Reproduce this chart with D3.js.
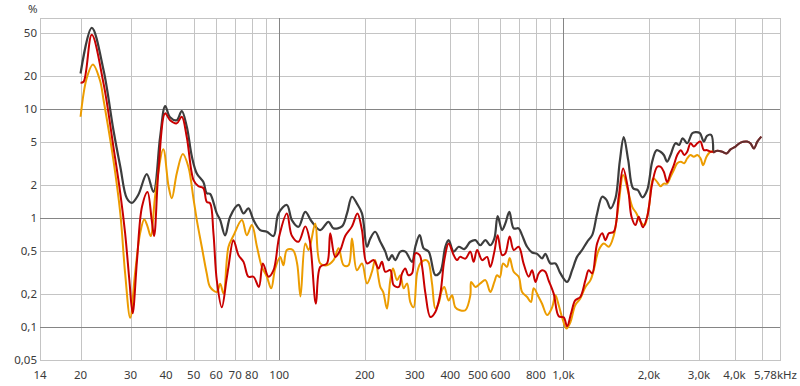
<!DOCTYPE html>
<html>
<head>
<meta charset="utf-8">
<script src="https://d3js.org/d3.v7.min.js"></script>
<style>
  body { margin: 0; background: #fff; }
  text { font-family: "Noto Sans", "Open Sans", sans-serif; font-size: 11.5px; fill: #3a3a3a; }
</style>
</head>
<body>
<script>
// axis ticks and grid
var xTickVals = [14.4, 20, 30, 40, 50, 60, 70, 80, 100, 200, 300, 400, 500, 600, 800, 1000, 2000, 3000, 4000, 5780];
var xTickLabels = ["14", "20", "30", "40", "50", "60", "70", "80", "100", "200", "300", "400", "500", "600", "800", "1,0k", "2,0k", "3,0k", "4,0k", "5,78kHz"];
var yTickVals = [50, 20, 10, 5, 2, 1, 0.5, 0.2, 0.1, 0.05];
var yTickLabels = ["50", "20", "10", "5", "2", "1", "0,5", "0,2", "0,1", "0,05"];
var xMinor = [20, 30, 40, 50, 60, 70, 80, 90, 200, 300, 400, 500, 600, 700, 800, 900, 2000, 3000, 4000, 5000];
var xMajor = [100, 1000];
var yMinor = [50, 20, 5, 2, 0.5, 0.2];
var yMajor = [10, 1, 0.1];

// THD (dark grey)
var thdFreq = [20, 21.9, 24.1, 26.1, 27.6, 29.1, 30.3, 31.9, 34.2, 36.1, 38.1, 39.7, 41.3, 43.6, 45.4, 47.3, 49.3, 51.3, 54.1, 55.6, 57.1, 60.3, 62.0, 64.5, 67.2, 71.9, 74.9, 77.9, 81.2, 85.7, 90.5, 95.5, 99.4, 106.4, 110.8, 116.9, 123.5, 130.3, 139.4, 149.1, 155.3, 166.3, 173.2, 180.3, 187.6, 195.5, 203.6, 209.2, 217.5, 226.8, 236.2, 242.5, 249.4, 256, 266.8, 277.8, 293.2, 301.2, 312, 322.2, 335.6, 354.3, 368.8, 384.1, 394.5, 410.9, 428, 447.5, 470.4, 490, 510, 531.4, 553, 571.5, 586.9, 608.3, 624.6, 645.2, 668.3, 696, 715.3, 745, 775.8, 808, 841, 863.6, 900, 937, 976, 1030, 1073, 1116.5, 1163, 1212, 1262, 1314, 1369, 1417, 1464, 1524, 1578, 1630, 1690, 1758, 1826, 1896, 1971, 2052, 2126, 2195, 2255, 2316, 2381, 2480, 2554, 2626, 2726, 2839, 2916, 3020, 3118, 3200, 3309, 3364];
var thdVals = [21.2, 55.5, 22.7, 6.43, 2.96, 1.52, 1.38, 1.63, 2.53, 1.74, 5.52, 10.65, 8.4, 7.9, 9.6, 6.88, 3.65, 2.57, 2.14, 1.69, 1.67, 1.104, 0.959, 0.693, 1.03, 1.32, 1.104, 1.23, 0.959, 0.776, 0.75, 0.684, 1.104, 1.32, 0.959, 0.833, 1.14, 0.925, 0.776, 0.925, 0.805, 0.84, 1.104, 1.57, 1.36, 1.104, 0.546, 0.651, 0.75, 0.607, 0.493, 0.412, 0.458, 0.412, 0.493, 0.493, 0.397, 0.546, 0.698, 0.528, 0.493, 0.3, 0.322, 0.546, 0.628, 0.493, 0.546, 0.52, 0.607, 0.628, 0.564, 0.628, 0.564, 0.651, 1.043, 0.776, 0.894, 1.14, 0.805, 0.805, 0.698, 0.546, 0.484, 0.47, 0.428, 0.47, 0.384, 0.384, 0.311, 0.26, 0.333, 0.441, 0.51, 0.607, 0.698, 1.104, 1.57, 1.47, 1.23, 1.52, 3.29, 5.52, 3.4, 1.88, 1.81, 1.55, 1.81, 3.29, 4.2, 4.06, 3.79, 3.29, 3.79, 4.86, 4.69, 5.4, 4.86, 6.0, 6.14, 6.01, 5.03, 5.68, 5.8, 3.99];

// k2 (red)
var k2Freq = [20, 20.5, 21.9, 24.1, 26.1, 27.6, 28.7, 29.7, 30.5, 31.6, 32.9, 34.4, 35.6, 36.3, 37.6, 39.7, 41.3, 43.6, 45.4, 47.3, 50, 52, 54.1, 55.6, 57.1, 58.7, 60.3, 62.8, 65.2, 66.3, 69.0, 71.9, 74.9, 77.9, 81.2, 84.8, 87.6, 91.7, 95.5, 100.2, 106.4, 110.8, 116.9, 123.5, 128, 134.6, 139.4, 147.2, 151.2, 157.4, 164.1, 170.8, 180.3, 188.4, 195.5, 203.6, 215, 223.5, 229.8, 236.2, 246, 252.7, 263.4, 270.5, 277.8, 284.5, 293.2, 301.2, 312, 318.3, 327, 340.2, 354.3, 368.8, 381, 394.5, 410.9, 422.2, 432.5, 451.8, 470.4, 483, 497, 517.5, 538.6, 553, 571.5, 586.9, 608.3, 624.6, 646.8, 668.3, 696, 724.6, 754.8, 775.8, 797, 818, 841, 863.6, 886, 924, 962.6, 1002, 1030, 1064, 1100, 1146, 1195, 1227, 1262, 1314, 1369, 1406, 1444, 1503, 1565, 1622, 1690, 1736, 1793, 1840, 1903, 1971, 2052, 2138, 2195, 2255, 2316, 2381, 2446, 2514, 2589, 2661, 2726, 2800, 2876, 2958, 3036, 3118, 3200, 3290, 3364];
var k2Vals = [17.4, 17.8, 47.9, 17.1, 4.51, 1.69, 0.725, 0.27, 0.134, 0.412, 1.27, 1.74, 0.959, 0.684, 2.76, 9.13, 7.9, 7.4, 8.5, 5.52, 2.22, 1.96, 1.88, 1.41, 1.37, 0.725, 0.27, 0.152, 0.27, 0.357, 0.628, 0.458, 0.397, 0.29, 0.29, 0.234, 0.384, 0.29, 0.333, 0.698, 1.104, 0.689, 0.607, 0.84, 0.628, 0.164, 0.357, 0.384, 0.725, 0.441, 0.51, 0.689, 0.84, 1.104, 0.776, 0.384, 0.412, 0.345, 0.397, 0.322, 0.333, 0.243, 0.234, 0.311, 0.345, 0.3, 0.311, 0.476, 0.458, 0.357, 0.203, 0.124, 0.138, 0.203, 0.412, 0.586, 0.458, 0.412, 0.441, 0.425, 0.493, 0.397, 0.51, 0.412, 0.441, 0.357, 0.493, 0.698, 0.458, 0.476, 0.68, 0.51, 0.546, 0.38, 0.29, 0.333, 0.26, 0.311, 0.333, 0.322, 0.27, 0.203, 0.126, 0.123, 0.102, 0.134, 0.176, 0.189, 0.27, 0.333, 0.311, 0.586, 0.725, 0.628, 0.725, 0.75, 1.57, 2.85, 1.81, 1.03, 0.863, 1.03, 0.823, 1.03, 2.07, 2.96, 2.96, 2.66, 2.14, 2.57, 3.06, 3.79, 4.2, 3.79, 4.06, 4.86, 4.53, 4.86, 5.03, 4.2, 4.2, 4.06, 4.06];

// k3 (orange)
var k3Freq = [20, 21.0, 22.1, 23.4, 24.1, 26.1, 27.6, 28.7, 29.9, 31.1, 32.4, 33.5, 34.4, 35.3, 36.7, 39.1, 40.8, 41.9, 43.6, 45.8, 47.9, 50, 51.3, 53.4, 55.6, 57.1, 60.3, 62.0, 63.7, 66.3, 69.0, 73.9, 76.9, 80.1, 83.5, 86.9, 90.5, 93.7, 96.8, 100.8, 103.5, 106.4, 111.7, 115.6, 118.8, 123.5, 126.9, 133.9, 139.4, 147.2, 155.3, 161.8, 168.5, 175.4, 180.3, 187.6, 195.5, 203.6, 212, 217.5, 226.8, 232.2, 239.3, 246, 251.4, 259.8, 266.8, 274, 281.7, 289.2, 297, 305.4, 313.8, 327, 334.6, 344.8, 354.3, 363.8, 373.6, 381, 394.5, 405.5, 416.6, 432.5, 451.8, 470.4, 473.7, 490, 510, 531.4, 553, 571.5, 583.8, 597, 613.2, 632.6, 646.8, 668.3, 696, 715.3, 745, 768.8, 785.8, 818, 841, 876.4, 912.5, 937, 962.6, 989, 1025, 1058, 1100, 1146, 1195, 1245, 1278, 1331, 1386, 1444, 1503, 1565, 1622, 1690, 1746, 1807, 1867, 1929, 2000, 2070, 2138, 2195, 2255, 2316, 2381, 2446, 2514, 2589, 2661, 2726, 2800, 2876, 2958, 3036, 3100, 3187, 3290, 3364];
var k3Vals = [8.5, 19.0, 25.6, 18.4, 12.1, 3.4, 1.104, 0.311, 0.122, 0.311, 0.725, 0.973, 0.84, 0.684, 1.69, 4.27, 1.96, 1.52, 2.57, 3.87, 2.96, 1.47, 0.959, 0.546, 0.311, 0.234, 0.21, 0.25, 0.203, 0.546, 0.689, 0.959, 0.698, 0.863, 0.546, 0.357, 0.29, 0.227, 0.345, 0.441, 0.37, 0.51, 0.51, 0.384, 0.191, 0.586, 0.51, 0.894, 0.384, 0.37, 0.412, 0.528, 0.37, 0.37, 0.651, 0.333, 0.384, 0.252, 0.322, 0.412, 0.234, 0.21, 0.148, 0.27, 0.345, 0.27, 0.3, 0.227, 0.252, 0.17, 0.152, 0.311, 0.384, 0.412, 0.397, 0.252, 0.148, 0.165, 0.218, 0.234, 0.176, 0.196, 0.152, 0.143, 0.143, 0.196, 0.26, 0.234, 0.252, 0.27, 0.21, 0.26, 0.3, 0.287, 0.384, 0.357, 0.43, 0.322, 0.29, 0.21, 0.189, 0.17, 0.227, 0.189, 0.164, 0.129, 0.152, 0.196, 0.159, 0.123, 0.097, 0.111, 0.159, 0.183, 0.234, 0.27, 0.333, 0.51, 0.586, 0.546, 0.689, 1.36, 2.48, 1.74, 1.27, 1.104, 0.925, 0.863, 1.27, 2.32, 2.14, 1.96, 2.07, 2.07, 2.39, 2.76, 3.19, 3.29, 3.19, 3.54, 3.79, 3.65, 3.79, 3.54, 3.06, 3.65, 4.06, 4.06];

// above ~3.4 kHz only one trace is left (THD and k2 coincide)
var tailFreq = [3364, 3475, 3620, 3749, 3872, 4032, 4199, 4427, 4546, 4680, 4810, 4968];
var tailVals = [3.99, 4.14, 4.06, 3.92, 4.27, 4.53, 4.93, 5.03, 4.86, 4.35, 5.03, 5.59];

var margin = {top: 18, right: 20, bottom: 26, left: 40},
    width = 800 - margin.left - margin.right,
    height = 386 - margin.top - margin.bottom;

var svg = d3.select("body")
  .append("svg")
    .attr("width", 800)
    .attr("height", 386)
  .append("g")
    .attr("transform", "translate(" + margin.left + "," + margin.top + ")");

var x = d3.scaleLog()
  .domain([14.4, 5780])
  .range([0, width]);

var y = d3.scaleLog()
  .domain([0.05, 68.4])
  .range([height, 0]);

// grid
svg.append("g")
  .selectAll("line")
  .data(xMinor)
  .enter()
  .append("line")
    .attr("x1", function(d) { return Math.round(x(d)) + 0.5; })
    .attr("x2", function(d) { return Math.round(x(d)) + 0.5; })
    .attr("y1", 0)
    .attr("y2", height)
    .style("stroke", "#c4c4c4");

svg.append("g")
  .selectAll("line")
  .data(yMinor)
  .enter()
  .append("line")
    .attr("x1", 0)
    .attr("x2", width)
    .attr("y1", function(d) { return Math.round(y(d)) + 0.5; })
    .attr("y2", function(d) { return Math.round(y(d)) + 0.5; })
    .style("stroke", "#c4c4c4");

// frame
svg.append("rect")
  .attr("x", 0.5)
  .attr("y", 0.5)
  .attr("width", width)
  .attr("height", height)
  .style("fill", "none")
  .style("stroke", "#c4c4c4");

svg.append("g")
  .selectAll("line")
  .data(xMajor)
  .enter()
  .append("line")
    .attr("x1", function(d) { return Math.round(x(d)) + 0.5; })
    .attr("x2", function(d) { return Math.round(x(d)) + 0.5; })
    .attr("y1", 0)
    .attr("y2", height)
    .style("stroke", "#858585");

svg.append("g")
  .selectAll("line")
  .data(yMajor)
  .enter()
  .append("line")
    .attr("x1", 0)
    .attr("x2", width)
    .attr("y1", function(d) { return Math.round(y(d)) + 0.5; })
    .attr("y2", function(d) { return Math.round(y(d)) + 0.5; })
    .style("stroke", "#858585");

// tick labels
svg.append("g")
  .selectAll("text")
  .data(yTickVals)
  .enter()
  .append("text")
    .attr("x", -3)
    .attr("y", function(d) { return y(d); })
    .attr("dy", "0.35em")
    .attr("text-anchor", "end")
    .text(function(d, i) { return yTickLabels[i]; });

svg.append("g")
  .selectAll("text")
  .data(xTickVals)
  .enter()
  .append("text")
    .attr("x", function(d, i) { return i == xTickVals.length - 1 ? width + 17 : x(d); })
    .attr("y", height + 15)
    .attr("dy", "0.35em")
    .attr("text-anchor", function(d, i) { return i == xTickVals.length - 1 ? "end" : "middle"; })
    .text(function(d, i) { return xTickLabels[i]; });

svg.append("text")
  .attr("x", -12)
  .attr("y", -5)
  .attr("text-anchor", "start")
  .text("%");

// curves
var clip = svg.append("clipPath").attr("id", "plot")
  .append("rect").attr("width", width).attr("height", height);

var line = d3.line()
  .x(function(d) { return x(d[0]); })
  .y(function(d) { return y(d[1]); })
  .curve(d3.curveCatmullRom.alpha(0.5));

function pairs(f, v) { return f.map(function(d, i) { return [d, v[i]]; }); }

var curves = svg.append("g").attr("clip-path", "url(#plot)");

curves.append("path")
  .datum(pairs(thdFreq, thdVals))
  .attr("d", line)
  .style("fill", "none")
  .style("stroke", "#3d3d3d")
  .style("stroke-width", 2.2);

curves.append("path")
  .datum(pairs(k3Freq, k3Vals))
  .attr("d", line)
  .style("fill", "none")
  .style("stroke", "#ec9c00")
  .style("stroke-width", 2);

curves.append("path")
  .datum(pairs(k2Freq, k2Vals))
  .attr("d", line)
  .style("fill", "none")
  .style("stroke", "#c80000")
  .style("stroke-width", 2);

curves.append("path")
  .datum(pairs(tailFreq, tailVals))
  .attr("d", line)
  .style("fill", "none")
  .style("stroke", "#c80000")
  .style("stroke-width", 2);

curves.append("path")
  .datum(pairs(tailFreq, tailVals))
  .attr("d", line)
  .style("fill", "none")
  .style("stroke", "#3d3d3d")
  .style("stroke-opacity", 0.75)
  .style("stroke-width", 2);
</script>
</body>
</html>
